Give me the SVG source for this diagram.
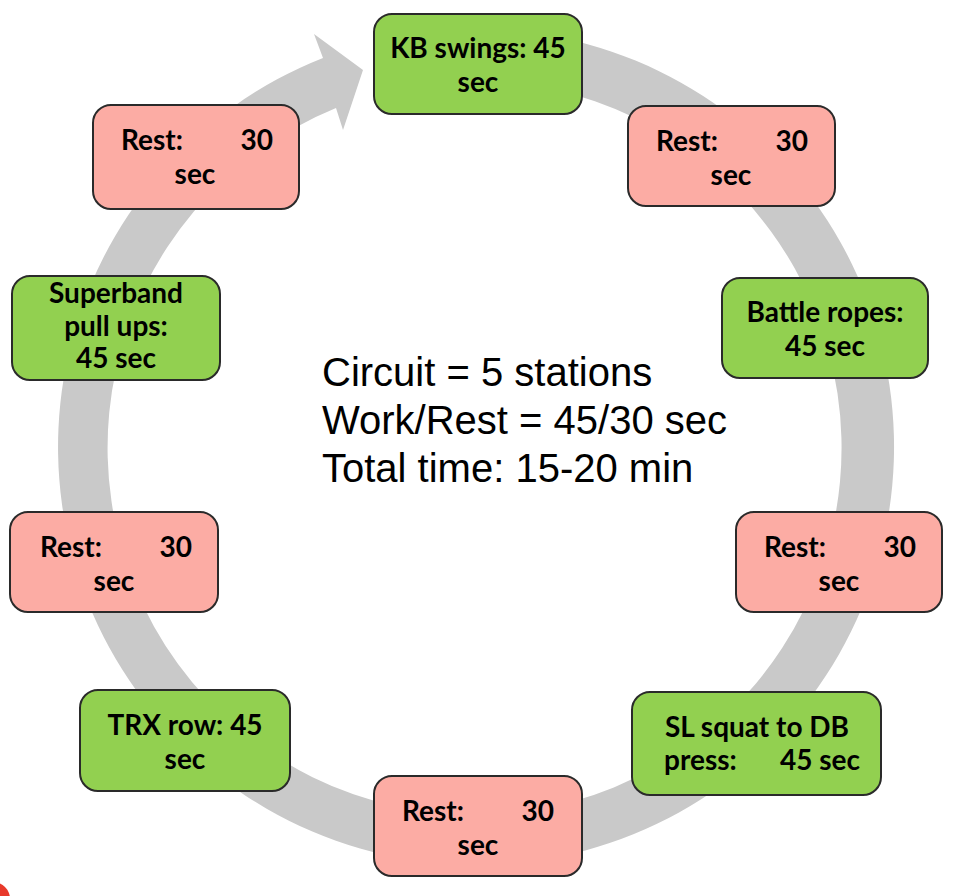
<svg xmlns="http://www.w3.org/2000/svg" width="968" height="896" viewBox="0 0 968 896">
<style>
.g{fill:#92d050;stroke:#2a2a2a;stroke-width:2}
.p{fill:#fcaca4;stroke:#2a2a2a;stroke-width:2}
.t{font-family:Lato,"Open Sans","Liberation Sans",sans-serif;font-weight:bold;font-size:28px;fill:#000}
.c{text-anchor:middle}
.e{text-anchor:end}
.m{font-family:"Liberation Sans",Arial,sans-serif;font-size:40px;fill:#000}
</style>
<rect width="968" height="896" fill="#fff"/>
<g id="connectors">
<path d="M 512.9 30.6 A 418 418 0 1 1 323 58 L 314 34 L 363 70 L 343 130 L 336 108 A 367 367 0 1 0 508.4 82.4 Z" fill="#c9c9c9"/>
</g>
<g id="kb"><rect class="g" x="374" y="14" width="208" height="100" rx="18"/>
<text class="t c" x="478" y="58">KB swings: 45</text><text class="t c" x="478" y="92">sec</text></g>
<g id="rest1"><rect class="p" x="628" y="106" width="207" height="100" rx="18"/>
<text class="t" x="656" y="151">Rest:</text><text class="t e" x="808" y="151">30</text><text class="t c" x="731" y="185">sec</text></g>
<g id="battle"><rect class="g" x="722" y="278" width="206" height="100" rx="18"/>
<text class="t c" x="825" y="322">Battle ropes:</text><text class="t c" x="825" y="356">45 sec</text></g>
<g id="rest2"><rect class="p" x="736" y="512" width="206" height="100" rx="18"/>
<text class="t" x="764" y="557">Rest:</text><text class="t e" x="916" y="557">30</text><text class="t c" x="839" y="591">sec</text></g>
<g id="sl"><rect class="g" x="632" y="692" width="249" height="103" rx="18"/>
<text class="t c" x="757" y="737">SL squat to DB</text><text class="t" x="664" y="770">press:</text><text class="t e" x="860" y="770">45 sec</text></g>
<g id="rest3"><rect class="p" x="374" y="776" width="208" height="100" rx="18"/>
<text class="t" x="402" y="821">Rest:</text><text class="t e" x="554" y="821">30</text><text class="t c" x="478" y="855">sec</text></g>
<g id="trx"><rect class="g" x="80" y="690" width="210" height="101" rx="18"/>
<text class="t c" x="185" y="735">TRX row: 45</text><text class="t c" x="185" y="769">sec</text></g>
<g id="rest4"><rect class="p" x="10" y="512" width="208" height="100" rx="18"/>
<text class="t" x="40" y="557">Rest:</text><text class="t e" x="192" y="557">30</text><text class="t c" x="114" y="591">sec</text></g>
<g id="superband"><rect class="g" x="12" y="276" width="208" height="104" rx="18"/>
<text class="t c" x="116" y="303">Superband</text><text class="t c" x="116" y="336">pull ups:</text><text class="t c" x="116" y="368">45 sec</text></g>
<g id="rest5"><rect class="p" x="93" y="105" width="206" height="104" rx="18"/>
<text class="t" x="121" y="150">Rest:</text><text class="t e" x="273" y="150">30</text><text class="t c" x="195" y="184">sec</text></g>
<g id="summary">
<text class="m" x="322" y="386">Circuit = 5 stations</text>
<text class="m" x="322" y="434">Work/Rest = 45/30 sec</text>
<text class="m" x="322" y="482">Total time: 15-20 min</text>
</g>
<circle cx="-7" cy="899" r="17" fill="#e8392b"/>
</svg>
